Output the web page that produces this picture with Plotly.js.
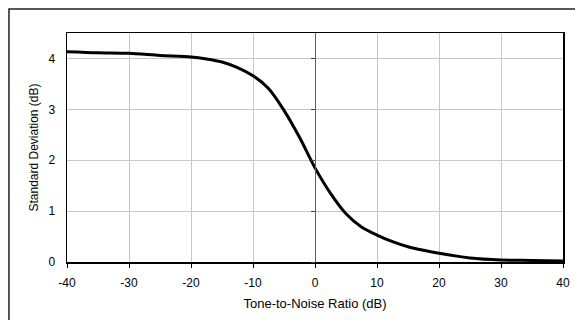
<!DOCTYPE html>
<html>
<head>
<meta charset="utf-8">
<script src="https://cdn.plot.ly/plotly-3.0.1.min.js"></script>
<style>html,body{margin:0;padding:0;background:#fff;}#chart{width:575px;height:320px;}</style>
</head>
<body>
<div id="chart"></div>
<script>
var tnr = [-40,-35,-30,-25,-20,-17.5,-15,-12.5,-10,-7.5,-5,-2.5,0,2.5,5,7.5,10,12.5,15,17.5,20,25,30,35,40];
var stdDev = [4.13,4.11,4.10,4.06,4.03,3.99,3.93,3.82,3.66,3.41,2.98,2.45,1.85,1.35,0.95,0.69,0.53,0.40,0.30,0.23,0.17,0.08,0.04,0.03,0.02];
var xTicks = [-40,-30,-20,-10,0,10,20,30,40];
var yTicks = [0,1,2,3,4];
var xTitle = 'Tone-to-Noise Ratio (dB)';
var yTitle = 'Standard Deviation (dB)';

var font = 'Liberation Sans, Arial, sans-serif';
var trace = {
  x: tnr, y: stdDev, type: 'scatter', mode: 'lines',
  line: {color: '#000', width: 3, shape: 'spline', smoothing: 0.8},
  hoverinfo: 'skip', showlegend: false
};
var layout = {
  width: 575, height: 320,
  margin: {l: 67, r: 12, t: 33, b: 58},
  paper_bgcolor: '#fff', plot_bgcolor: '#fff',
  font: {family: font, size: 12, color: '#000'},
  xaxis: {
    range: [-40, 40], tickvals: xTicks, ticktext: xTicks.map(String),
    showgrid: true, gridcolor: '#c8c8c8', gridwidth: 1,
    zeroline: false,
    showline: true, linecolor: '#000', linewidth: 1.5, mirror: true,
    ticks: 'outside', ticklen: 4, tickcolor: '#000', tickwidth: 1,
    ticklabelstandoff: 5,
    tickfont: {family: font, size: 12},
    title: {text: xTitle, font: {family: font, size: 13}, standoff: 10},
    fixedrange: true
  },
  yaxis: {
    range: [0, 4.5], tickvals: yTicks, ticktext: yTicks.map(String),
    showgrid: true, gridcolor: '#c8c8c8', gridwidth: 1,
    zeroline: false,
    showline: true, linecolor: '#000', linewidth: 1.5, mirror: true,
    ticks: '', ticklabelstandoff: 8,
    tickfont: {family: font, size: 12},
    title: {text: yTitle, font: {family: font, size: 12}, standoff: 7},
    fixedrange: true
  },
  yaxis2: {
    overlaying: 'y', anchor: 'free', position: 0.5, side: 'left',
    range: [0, 4.5], tickvals: yTicks,
    showticklabels: false, showgrid: false, zeroline: false,
    showline: true, linecolor: '#606060', linewidth: 1.2,
    ticks: 'outside', ticklen: 4, tickcolor: '#404040', tickwidth: 1,
    fixedrange: true
  },
  shapes: [{
    type: 'rect', xref: 'paper', yref: 'paper',
    x0: -0.117, x1: 1.1, y0: -0.4, y1: 1.105,
    line: {color: '#222', width: 1.5}, fillcolor: 'rgba(0,0,0,0)', layer: 'below'
  }]
};
var dummy = {x: [0], y: [0], yaxis: 'y2', type: 'scatter', mode: 'markers', marker: {opacity: 0}, hoverinfo: 'skip', showlegend: false};
Plotly.newPlot('chart', [trace, dummy], layout, {displayModeBar: false, staticPlot: true});
</script>
</body>
</html>
